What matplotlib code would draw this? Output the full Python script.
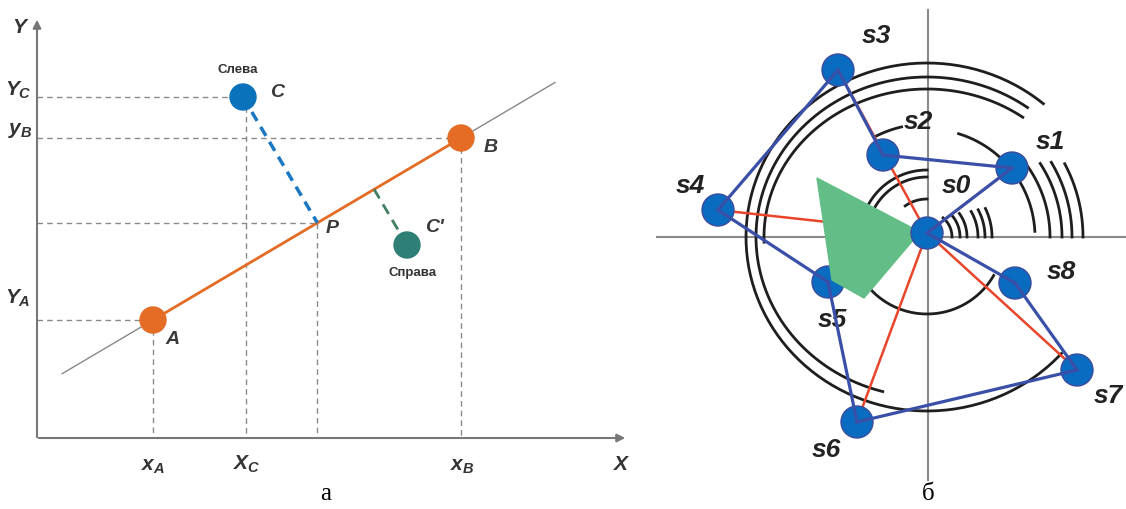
import numpy as np
import matplotlib
matplotlib.use('Agg')
import matplotlib.pyplot as plt
from matplotlib.patches import Circle, Polygon

plt.rcParams['mathtext.fontset'] = 'custom'
plt.rcParams['mathtext.it'] = 'Liberation Sans:italic:bold'
plt.rcParams['mathtext.rm'] = 'Liberation Sans:bold'

# ---- панель а: точки (координаты рисунка, пиксели) ----
pt_names = ['A', 'B', 'C', "C'"]
pt_x = [153, 461, 243, 407]
pt_y = [320, 138, 97, 245]
pt_colors = ['#E46C24', '#E46C24', '#0A72BA', '#2E7F76']
axis_origin = (37, 438)
axis_ends = (628, 17)

# ---- панель б: позиции s0..s8 ----
s_names = ['s0', 's1', 's2', 's3', 's4', 's5', 's6', 's7', 's8']
s_x = [927, 1012, 883, 838, 718, 828, 857, 1077, 1015]
s_y = [233, 168, 155, 70, 210, 282, 422, 370, 283]
s_lab_x = [956, 1050, 918, 876, 690, 832, 826, 1108, 1061]
s_lab_y = [186, 142, 122, 36, 186, 320, 450, 396, 272]
red_to = [1, 3, 4, 6, 7]           # красные лучи из s0
green_poly_x = [817, 920, 864, 832]
green_poly_y = [178, 232, 298, 280]
center_b = (927, 237)
# дуги: (rx, ry, угол от, угол до)
arcs = [(181, 174, 50, 318), (171, 160, 54, 255), (163, 148, 54, 182),
        (108, 108, 3, 73), (113, 113, 103, 118),
        (67, 67, 90, 150), (60, 60, 90, 150), (38, 38, 90, 125),
        (77, 77, 222, 330),
        (25, 25, 0, 50), (33, 33, 0, 42), (40, 40, 0, 36),
        (51, 51, 0, 30), (58, 58, 0, 28), (65, 65, 0, 26),
        (123, 123, 0, 37), (135, 135, 0, 33), (145, 145, 0, 31), (156, 156, 0, 28)]

fig = plt.figure(figsize=(11.26, 5.09), dpi=100)
ax = fig.add_axes([0, 0, 1, 1])
ax.set_xlim(0, 1126)
ax.set_ylim(509, 0)
ax.axis('off')

# ================= панель а =================
ox, oy = axis_origin
ax.annotate('', xy=(ox, axis_ends[1]), xytext=(ox, oy + 2),
            arrowprops=dict(arrowstyle='-|>', color='#777777', lw=1.5, mutation_scale=12))
ax.annotate('', xy=(axis_ends[0], oy), xytext=(ox - 1, oy),
            arrowprops=dict(arrowstyle='-|>', color='#777777', lw=1.5, mutation_scale=12))

A = np.array([pt_x[0], pt_y[0]], float)
B = np.array([pt_x[1], pt_y[1]], float)
C = np.array([pt_x[2], pt_y[2]], float)
C2 = np.array([pt_x[3], pt_y[3]], float)
d = B - A


def foot(p):
    t = np.dot(p - A, d) / np.dot(d, d)
    return A + t * d


P = foot(C)
F = foot(C2)

# тонкая прямая через A и B
ln = np.array([A + (-0.295) * d, A + 1.305 * d])
ax.plot(ln[:, 0], ln[:, 1], color='#888888', lw=1, zorder=2)
ax.plot([A[0], B[0]], [A[1], B[1]], color='#E46C24', lw=2, zorder=3)

dash = dict(color='#8a8a8a', lw=1, ls=(0, (4, 3)), zorder=1)
for px, py in [(C[0], C[1]), (B[0], B[1]), (P[0], P[1]), (A[0], A[1])]:
    ax.plot([ox, px], [py, py], **dash)
for px, py in [(A[0], A[1]), (C[0] + 3, C[1]), (P[0], P[1]), (B[0], B[1])]:
    ax.plot([px, px], [py, oy], **dash)

ax.plot([C[0], P[0]], [C[1], P[1]], color='#1A78C2', lw=2.5, ls=(0, (3, 2)), zorder=3)
ax.plot([C2[0], F[0]], [C2[1], F[1]], color='#3F7F5F', lw=2, ls=(0, (4, 2.5)), zorder=3)

for x, y, c in zip(pt_x, pt_y, pt_colors):
    ax.add_patch(Circle((x, y), 13, facecolor=c, edgecolor=c, lw=1, zorder=5))

lab = dict(fontsize=14, ha='center', va='center', color='#3a3a3a',
           family='Liberation Sans', weight='bold', style='italic')
ax.text(172, 340, 'A', **lab)
ax.text(491, 148, 'B', **lab)
ax.text(277, 92, 'C', **lab)
ax.text(P[0] + 15, P[1] + 6, 'P', **lab)
ax.text(434, 228, "C'", **lab)
small = dict(fontsize=9.5, ha='center', va='center', color='#333333',
             family='Liberation Sans', weight='bold')
ax.text(238, 70, 'Слева', **small)
ax.text(413, 273, 'Справа', **small)

sub = dict(fontsize=15, ha='center', va='center', color='#333333')
ax.text(21, 27, r'$Y$', **sub)
ax.text(18, 90, r'$Y_C$', **sub)
ax.text(20, 130, r'$y_B$', **sub)
ax.text(18, 298, r'$Y_A$', **sub)
ax.text(153, 466, r'$x_A$', **sub)
ax.text(247, 464, r'$X_C$', **sub)
ax.text(462, 466, r'$x_B$', **sub)
ax.text(622, 464, r'$X$', **sub)

cap = dict(fontsize=18, ha='center', va='center', color='black', family='Liberation Serif')
ax.text(326, 494, 'а', **cap)

# ================= панель б =================
cx, cy = center_b
ax.plot([657, 1126], [237, 237], color='#8a8a8a', lw=1.5, zorder=1)
ax.plot([928, 928], [10, 480], color='#8a8a8a', lw=1.5, zorder=1)

for rx, ry, a1, a2 in arcs:
    th = np.radians(np.linspace(a1, a2, 200))
    ax.plot(cx + rx * np.cos(th), cy - ry * np.sin(th), color='#1e1e1e', lw=2, zorder=2)

for k in red_to:
    ax.plot([s_x[0], s_x[k]], [s_y[0], s_y[k]], color='#E8452A', lw=1.8, zorder=3)

for k in range(1, 9):
    ax.add_patch(Circle((s_x[k], s_y[k]), 16, facecolor='#0A6CC0',
                        edgecolor='#3B4C9C', lw=1, zorder=4))

order = list(range(9)) + [0]
for i in range(len(order) - 1):
    a, b = order[i], order[i + 1]
    z = 8 if 0 in (a, b) else 5
    ax.plot([s_x[a], s_x[b]], [s_y[a], s_y[b]], color='#3A50A8', lw=2.3, zorder=z)

ax.add_patch(Polygon(np.column_stack([green_poly_x, green_poly_y]), closed=True,
                     facecolor='#62BE86', edgecolor='#62BE86', zorder=6))
ax.add_patch(Circle((s_x[0], s_y[0]), 16, facecolor='#0A6CC0',
                    edgecolor='#3B4C9C', lw=1, zorder=7))

slab = dict(fontsize=19, ha='center', va='center', color='#222222',
            family='Liberation Sans', weight='bold', style='italic')
for name, x, y in zip(s_names, s_lab_x, s_lab_y):
    ax.text(x, y, name, **slab)

ax.text(928, 494, 'б', **cap)

fig.savefig('out.png', dpi=100)
